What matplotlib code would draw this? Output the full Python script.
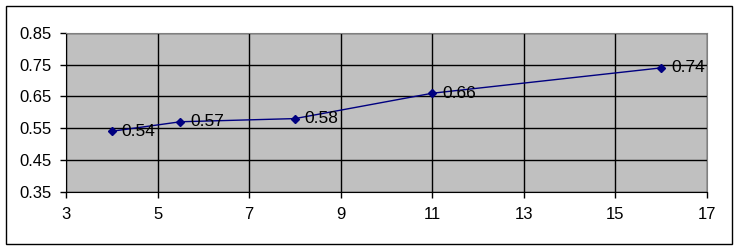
import matplotlib.pyplot as plt
from matplotlib.patches import Rectangle

plt.rcParams['font.family'] = ['Liberation Sans', 'DejaVu Sans']

x_values = [4, 5.5, 8, 11, 16]
y_values = [0.54, 0.57, 0.58, 0.66, 0.74]
labels = ['0.54', '0.57', '0.58', '0.66', '0.74']

fig = plt.figure(figsize=(7.38, 2.5), dpi=100)
fig.patch.set_facecolor('white')
fig.add_artist(Rectangle((6 / 738, 6 / 250), 726 / 738, 238 / 250,
                         transform=fig.transFigure, fill=False,
                         edgecolor='black', linewidth=1))

ax = fig.add_axes([66 / 738, 1 - 191.5 / 250, 641 / 738, 158.5 / 250])
ax.set_facecolor('#C0C0C0')

ax.plot(x_values, y_values, color='#000080', linewidth=1,
        marker='D', markersize=4.5, markerfacecolor='#000080',
        markeredgecolor='#000080', zorder=3)
for x, y, lab in zip(x_values, y_values, labels):
    ax.annotate(lab, (x, y), xytext=(7, 0), textcoords='offset points',
                va='center', ha='left', fontsize=12.5, color='black', zorder=4)

ax.set_xlim(3, 17)
ax.set_ylim(0.35, 0.85)
ax.set_xticks([3, 5, 7, 9, 11, 13, 15, 17])
ax.set_yticks([0.35, 0.45, 0.55, 0.65, 0.75, 0.85])
ax.set_yticklabels(['0.35', '0.45', '0.55', '0.65', '0.75', '0.85'])
ax.grid(True, color='black', linewidth=1)
ax.set_axisbelow(True)

ax.tick_params(direction='out', length=4, width=1, labelsize=12, colors='black')
ax.tick_params(axis='x', pad=7)
ax.tick_params(axis='y', pad=6)
for side in ['top', 'right']:
    ax.spines[side].set_color('#808080')
for side in ['left', 'bottom']:
    ax.spines[side].set_color('black')

fig.savefig('out.png', dpi=100)
